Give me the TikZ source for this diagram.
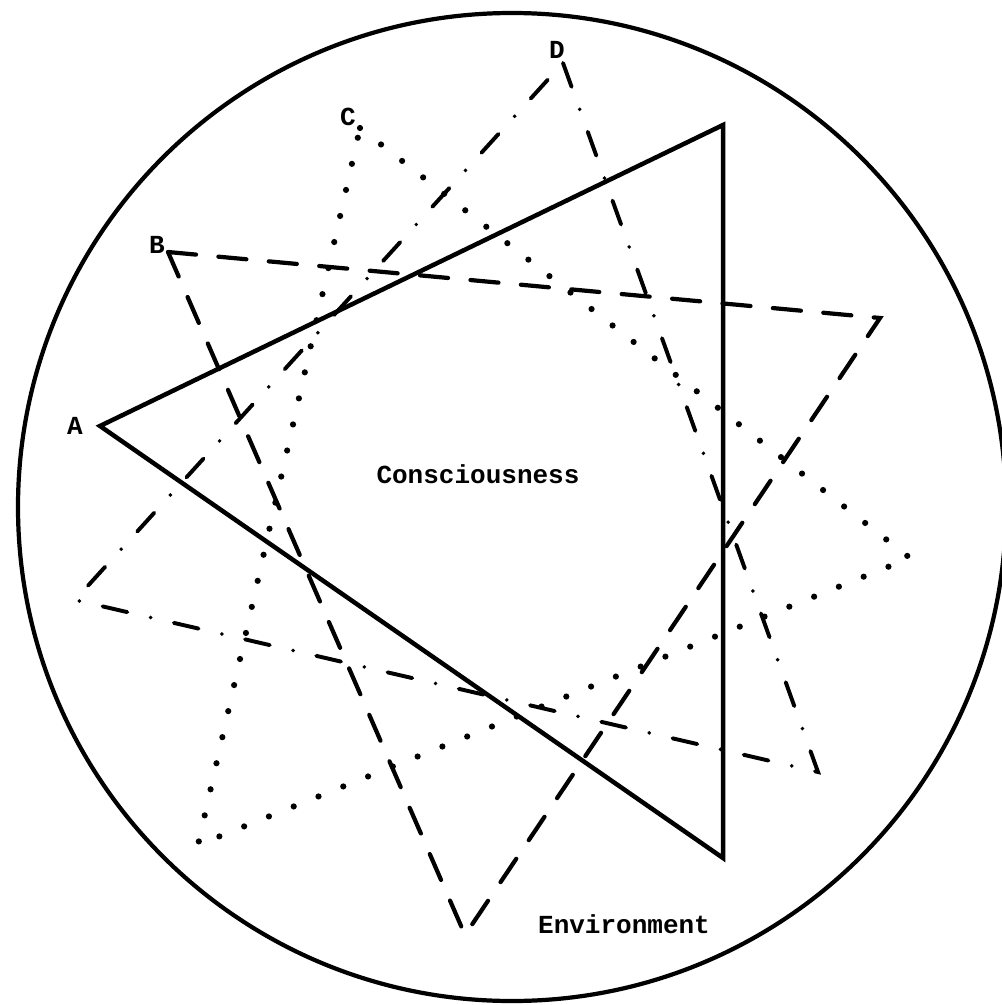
\documentclass[tikz,border=0pt]{standalone}
\usepackage{fontspec}
\setmonofont{Liberation Mono}
\usetikzlibrary{positioning}
\definecolor{ink}{RGB}{0,0,0}
\tikzset{
  rim/.style={draw=ink, line width=3pt},
  soltri/.style={draw=ink, line width=3.2pt, line join=miter},
  dashtri/.style={draw=ink, line width=3pt, line cap=round,
                  dash pattern=on 20pt off 16pt},
  dottri/.style={draw=ink, line width=4.4pt, line cap=round,
                 dash pattern=on 0pt off 19pt},
  dashdottri/.style={draw=ink, line width=2.8pt, line cap=round,
                     dash pattern=on 18pt off 17pt on 0pt off 17pt},
  lbl/.style={font=\ttfamily\bfseries\fontsize{18.5}{22}\selectfont, inner sep=0pt},
}

\begin{document}
\begin{tikzpicture}[x=0.025cm, y=-0.025cm]
  \useasboundingbox (0,0) rectangle (1001,1005);

  % environment
  \draw[rim] (512,507) circle[radius=494];

  % vertices
  \coordinate (a1) at (100,426);
  \coordinate (a2) at (723,125);
  \coordinate (a3) at (723,858);
  \coordinate (b1) at (168,252);
  \coordinate (b2) at (880,318);
  \coordinate (b3) at (465,935);
  \coordinate (c1) at (360,128);
  \coordinate (c2) at (910,558);
  \coordinate (c3) at (198,845);
  \coordinate (d1) at (563,63);
  \coordinate (d2) at (75,600);
  \coordinate (d3) at (818,772);

  % the four triangles
  \draw[soltri] (a1) -- (a2) -- (a3) -- cycle;
  \draw[dashtri] (b1) -- (b2) -- (b3) -- cycle;
  \draw[dottri] (c1) -- (c2) -- (c3) -- cycle;
  \draw[dashdottri] (d1) -- (d3) -- (d2) -- cycle;

  % labels
  \node[lbl] (la) at (75,426) {A};
  \node[lbl] (lb) at (157,245) {B};
  \node[lbl] (lc) at (348,117) {C};
  \node[lbl] (ld) at (557,50) {D};
  \node[lbl] (cons) at (478,474) {Consciousness};
  \node[lbl] (env) at (624,924) {Environment};
\end{tikzpicture}
\end{document}
